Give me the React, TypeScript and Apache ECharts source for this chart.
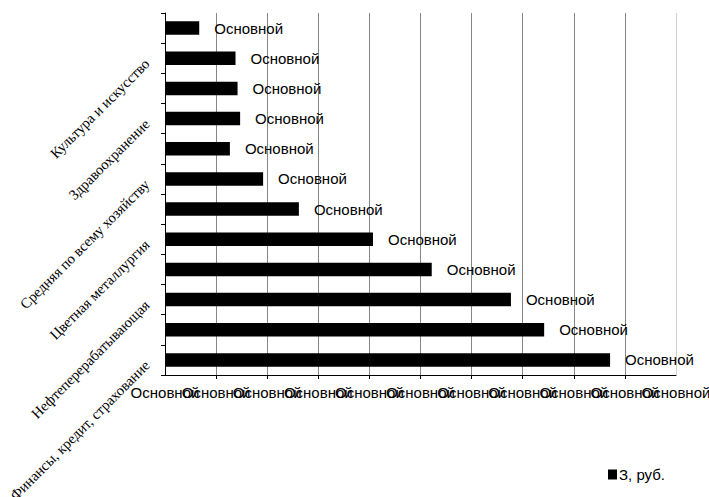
import React, { useEffect, useRef } from "react";
import * as echarts from "echarts";

// categories from bottom to top
const categories: string[] = [
  "Финансы, кредит, страхование",
  "Добыча нефти и газа",
  "Нефтеперерабатывающая",
  "Электроэнергетика",
  "Цветная металлургия",
  "Транспорт и связь",
  "Средняя по всему хозяйству",
  "Машиностроение",
  "Здравоохранение",
  "Образование",
  "Культура и искусство",
  "Сельское хозяйство",
];

const values: number[] = [8.71, 7.42, 6.77, 5.22, 4.07, 2.62, 1.92, 1.27, 1.47, 1.42, 1.38, 0.67];

const dataLabel = "Основной";
const tickLabels: string[] = [
  "Основной", "Основной", "Основной", "Основной", "Основной", "Основной",
  "Основной", "Основной", "Основной", "Основной", "Основной",
];
const axisMin = 0;
const axisMax = 10;

const seriesName = "З, руб.";

export default function App() {
  const ref = useRef<HTMLDivElement>(null);

  useEffect(() => {
    if (!ref.current) return;
    const chart = echarts.init(ref.current, undefined, { renderer: "svg" });
    const sans = "Liberation Sans";
    const serif = "Liberation Serif";
    const fs = 15;
    const gridColors = [
      "#868686", "#868686", "#868686", "#868686", "#868686", "#868686",
      "#868686", "#868686", "#868686", "#868686", "#d0d0d0",
    ];
    const labelCommon = {
      show: true,
      margin: 10,
      fontFamily: sans,
      fontSize: fs,
      color: "#000",
      formatter: (v: number) => tickLabels[Math.round(v)] ?? "",
    };
    chart.setOption({
      animation: false,
      backgroundColor: "#ffffff",
      grid: {
        left: 165,
        right: 33,
        top: 13,
        bottom: 122,
        containLabel: false,
        outerBoundsMode: "none",
      },
      legend: {
        left: 608,
        top: 467,
        padding: 0,
        itemWidth: 9,
        itemHeight: 10,
        icon: "rect",
        textStyle: { fontFamily: sans, fontSize: fs, color: "#000", padding: [0, 0, 0, -3] },
        data: [seriesName],
      },
      xAxis: [
        {
          type: "value",
          position: "bottom",
          min: axisMin,
          max: axisMax,
          interval: 1,
          axisLine: { show: true, onZero: false, lineStyle: { color: "#000", width: 1 } },
          axisTick: { show: true, length: 4, lineStyle: { color: "#000" } },
          splitLine: { show: true, lineStyle: { color: gridColors, width: 1 } },
          axisLabel: { ...labelCommon, showMinLabel: false, showMaxLabel: false },
        },
        {
          type: "value",
          position: "bottom",
          offset: 0,
          min: axisMin,
          max: axisMax,
          interval: axisMax - axisMin,
          axisLine: { show: false, onZero: false },
          axisTick: { show: false },
          splitLine: { show: false },
          axisLabel: { ...labelCommon, showMinLabel: true, showMaxLabel: true },
        },
      ],
      yAxis: {
        type: "category",
        data: categories,
        axisLine: { show: true, lineStyle: { color: "#000", width: 1 } },
        axisTick: { show: true, length: 4, alignWithLabel: false, lineStyle: { color: "#000" } },
        splitLine: { show: false },
        axisLabel: { show: false },
      },
      series: [
        {
          name: seriesName,
          type: "bar",
          xAxisIndex: 0,
          data: values,
          barWidth: "45%",
          itemStyle: { color: "#000" },
          label: {
            show: true,
            position: "right",
            distance: 15,
            fontFamily: sans,
            fontSize: fs,
            color: "#000",
            formatter: () => dataLabel,
          },
        },
      ],
    });

    // category labels (every other one, as in the reference), placed through the axis scales
    const axisX = chart.convertToPixel({ xAxisIndex: 0 }, axisMin) as number;
    const catLabels = categories
      .map((name, i) => ({ name, i }))
      .filter((c) => c.i % 2 === 0)
      .map((c) => {
        const y = chart.convertToPixel({ yAxisIndex: 0 }, c.name) as number;
        return {
          type: "text",
          x: axisX - 18,
          y: y + 3,
          rotation: Math.PI / 4,
          silent: true,
          style: {
            text: c.name,
            fontFamily: serif,
            fontSize: 14.67,
            fill: "#000",
            align: "right",
            verticalAlign: "middle",
          },
        };
      });
    chart.setOption({ graphic: catLabels });

    return () => chart.dispose();
  }, []);

  return (
    <div
      ref={ref}
      style={{ position: "fixed", left: 0, top: 0, width: 709, height: 497, background: "#fff" }}
    />
  );
}
